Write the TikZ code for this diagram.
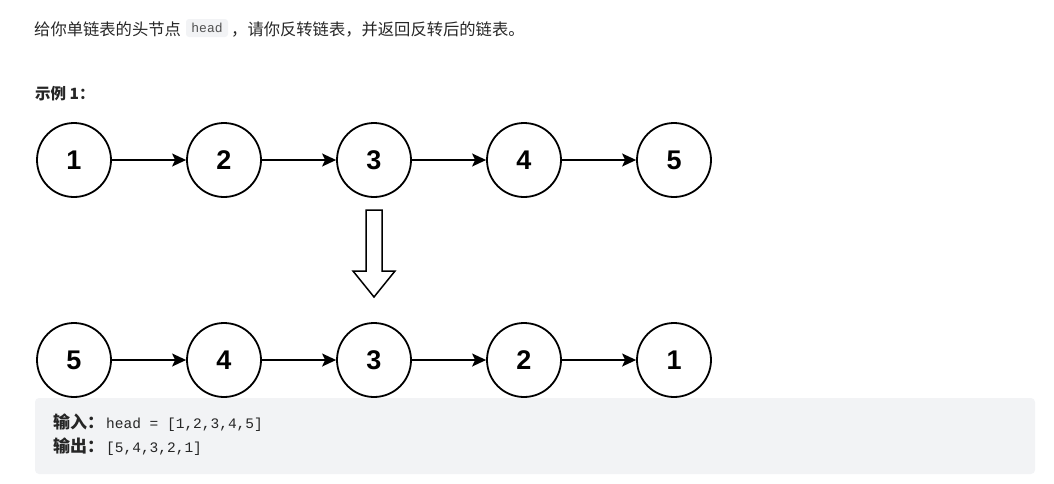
\documentclass[tikz,border=0pt]{standalone}
\usepackage{fontspec}
\setmainfont{Liberation Sans}
\setmonofont{Liberation Mono}
\newfontfamily\cjk{Noto Sans CJK SC}
\usetikzlibrary{arrows.meta}
\definecolor{boxgray}{RGB}{242,243,245}
\definecolor{inktext}{RGB}{38,38,38}
\definecolor{codetext}{RGB}{80,80,80}

\begin{document}
\begin{tikzpicture}[x=1pt, y=-1pt,
  listnode/.style={circle, draw, line width=1.8pt, minimum size=74pt, inner sep=0pt,
    font=\fontsize{27}{27}\selectfont\bfseries},
  nextptr/.style={-{Stealth[length=14pt, width=13pt, inset=3pt]}, line width=1.5pt},
  cn/.style={inner sep=0pt, text=inktext, font=\cjk\fontsize{16.3}{18}\selectfont},
  cnbold/.style={inner sep=0pt, text=inktext, font=\cjk\bfseries\fontsize{15.5}{18}\selectfont},
  codeline/.style={inner sep=0pt, text=inktext, font=\ttfamily\fontsize{14.5}{18}\selectfont}]
  \useasboundingbox (0,0) rectangle (1054,483);

  % question text
  \node[cn, anchor=base west] (ask) at (34,35) {给你单链表的头节点};
  \node[fill=boxgray, rounded corners=3pt, minimum width=42pt, minimum height=18pt, inner sep=0pt,
    text=codetext, font=\ttfamily\fontsize{13}{13}\selectfont] (headcode) at (207,28) {head};
  \node[cn, anchor=base west] (ask2) at (231,35) {，请你反转链表，并返回反转后的链表。};
  \node[cnbold, anchor=base west] (example) at (35,99) {示例 1：};

  % input/output box
  \fill[boxgray, rounded corners=4pt] (35,398) rectangle (1035,474);
  \node[cnbold, anchor=base west, font=\cjk\bfseries\fontsize{17}{18}\selectfont] (inlbl) at (53,428) {输入：};
  \node[codeline, anchor=base west] (inval) at (106,428) {head = [1,2,3,4,5]};
  \node[cnbold, anchor=base west, font=\cjk\bfseries\fontsize{17}{18}\selectfont] (outlbl) at (53,452) {输出：};
  \node[codeline, anchor=base west] (outval) at (106,452) {[5,4,3,2,1]};

  % list before
  \node[listnode] (a1) at (74,160) {1};
  \node[listnode] (a2) at (224,160) {2};
  \node[listnode] (a3) at (374,160) {3};
  \node[listnode] (a4) at (524,160) {4};
  \node[listnode] (a5) at (674,160) {5};
  \draw[nextptr] (a1) -- (a2);
  \draw[nextptr] (a2) -- (a3);
  \draw[nextptr] (a3) -- (a4);
  \draw[nextptr] (a4) -- (a5);

  % hollow arrow
  \draw[line width=1.5pt, line join=miter] (366,210) -- (382,210) -- (382,271) -- (395,271)
    -- (374,297) -- (353,271) -- (366,271) -- cycle;

  % list after
  \node[listnode] (b1) at (74,360) {5};
  \node[listnode] (b2) at (224,360) {4};
  \node[listnode] (b3) at (374,360) {3};
  \node[listnode] (b4) at (524,360) {2};
  \node[listnode] (b5) at (674,360) {1};
  \draw[nextptr] (b1) -- (b2);
  \draw[nextptr] (b2) -- (b3);
  \draw[nextptr] (b3) -- (b4);
  \draw[nextptr] (b4) -- (b5);
\end{tikzpicture}
\end{document}
